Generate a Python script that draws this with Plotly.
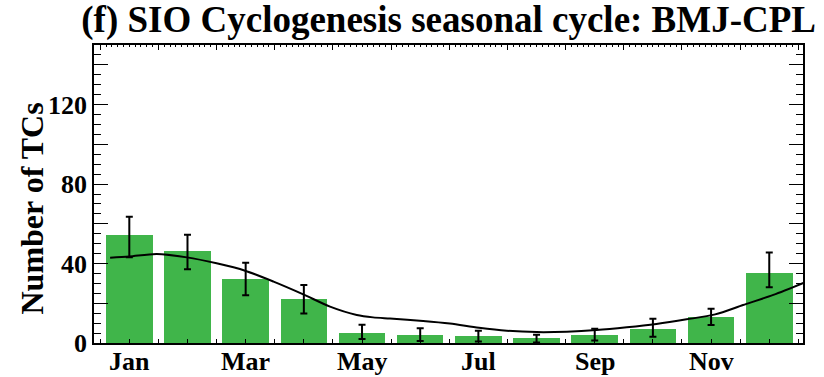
import plotly.graph_objects as go

# Monthly cyclogenesis counts (bars) with upper/lower error limits
months = ["Jan", "Feb", "Mar", "Apr", "May", "Jun",
          "Jul", "Aug", "Sep", "Oct", "Nov", "Dec"]
tc_counts = [54.5, 46.3, 32.2, 22.1, 5.0, 4.0, 3.5, 2.5, 4.0, 7.0, 13.1, 35.4]
err_upper = [63.6, 54.5, 40.4, 29.2, 9.2, 7.4, 6.2, 4.2, 7.2, 12.2, 17.3, 45.5]
err_lower = [43.1, 37.1, 24.0, 14.9, 2.0, 1.0, 0.8, 0.2, 1.2, 3.2, 9.1, 28.0]

# Smoothed seasonal cycle (month index, count)
curve_x = [-0.33, 0.0, 0.47, 0.99, 1.50, 1.99, 2.48, 2.99, 3.45, 3.91, 4.19,
           4.48, 5.05, 5.51, 6.01, 6.49, 7.00, 7.52, 8.03, 8.55, 9.06, 9.58,
           10.07, 10.55, 11.07, 11.60]
curve_y = [42.9, 43.5, 44.8, 43.1, 40.1, 36.4, 30.9, 24.5, 18.3, 14.1, 12.9,
           12.3, 11.1, 9.8, 7.7, 6.2, 5.5, 5.7, 6.5, 7.9, 9.6, 11.9,
           14.4, 19.1, 24.2, 30.4]

# Axis labelling
label_vals = [0, 2, 4, 6, 8, 10]
label_text = [months[i] for i in label_vals]
y_major = [0, 20, 40, 60, 80, 100, 120, 140]
y_text = ["0", "", "40", "", "80", "", "120", ""]
x_range = [-0.607, 11.58]
y_range = [0, 150]

x_idx = list(range(len(months)))
err_plus = [u - v for u, v in zip(err_upper, tc_counts)]
err_minus = [v - l for v, l in zip(tc_counts, err_lower)]

SERIF = "Liberation Serif"
tick_font = dict(family=SERIF, size=26, color="black", weight="bold")

fig = go.Figure()

fig.add_trace(go.Bar(
    x=x_idx, y=tc_counts, width=0.8,
    marker=dict(color="#40b54a", line=dict(width=0)),
    showlegend=False, hoverinfo="skip",
))
fig.add_trace(go.Scatter(
    x=x_idx, y=tc_counts, mode="markers",
    marker=dict(size=0.1, color="rgba(0,0,0,0)"),
    error_y=dict(type="data", symmetric=False, array=err_plus,
                 arrayminus=err_minus, color="black", thickness=2, width=3.5),
    showlegend=False, hoverinfo="skip",
))
fig.add_trace(go.Scatter(
    x=curve_x, y=curve_y, mode="lines",
    line=dict(color="black", width=2, shape="spline", smoothing=0.8),
    showlegend=False, hoverinfo="skip",
))
# Invisible trace so the top and right axes are drawn
fig.add_trace(go.Scatter(
    x=[0], y=[0], xaxis="x2", yaxis="y2", mode="markers",
    marker=dict(color="rgba(0,0,0,0)"), showlegend=False, hoverinfo="skip",
))

# Month names under the bottom axis
month_labels = [dict(
    text=f"<b>{t}</b>", xref="x", yref="paper", x=v, y=0,
    xanchor="center", yanchor="top", yshift=-2, showarrow=False,
    font=dict(family=SERIF, size=26, color="black"),
) for v, t in zip(label_vals, label_text)]

fig.update_layout(
    width=824, height=377,
    margin=dict(l=94, r=21, t=45, b=34, autoexpand=False),
    paper_bgcolor="white", plot_bgcolor="white",
    bargap=0,
    title=dict(text="<b>(f) SIO Cyclogenesis seasonal cycle: BMJ-CPL</b>",
               font=dict(family=SERIF, size=37, color="black"),
               x=0.5445, xanchor="center", y=0.985, yanchor="top"),
    xaxis=dict(
        range=x_range, showgrid=False, zeroline=False, automargin=False,
        showline=True, linecolor="black", linewidth=1.5,
        tickmode="array", tickvals=label_vals, showticklabels=False,
        ticks="inside", ticklen=4, tickcolor="black", tickwidth=1,
        minor=dict(tickmode="linear", tick0=0, dtick=0.5, ticks="inside",
                   ticklen=4, tickcolor="black", tickwidth=1),
    ),
    xaxis2=dict(
        range=x_range, overlaying="x", side="top", showgrid=False,
        zeroline=False, showline=True, linecolor="black", linewidth=1.5,
        tickmode="array", tickvals=[k + 0.5 for k in range(-1, 12)],
        ticks="inside", ticklen=5, tickcolor="black", tickwidth=1,
        showticklabels=False, automargin=False,
        minor=dict(tickmode="linear", tick0=0.5, dtick=0.1, ticks="inside",
                   ticklen=2, tickcolor="black", tickwidth=1),
    ),
    yaxis=dict(
        range=y_range, showgrid=False, zeroline=False, automargin=False,
        showline=True, linecolor="black", linewidth=1.5,
        tickmode="array", tickvals=y_major, ticktext=y_text,
        ticks="inside", ticklen=14, tickcolor="black", tickwidth=1,
        minor=dict(tickmode="linear", tick0=0, dtick=5, ticks="inside",
                   ticklen=7, tickcolor="black", tickwidth=1),
        tickfont=tick_font,
    ),
    yaxis2=dict(
        range=y_range, overlaying="y", side="right", showgrid=False,
        zeroline=False, showline=True, linecolor="black", linewidth=1.5,
        tickmode="array", tickvals=y_major, showticklabels=False,
        ticks="inside", ticklen=14, tickcolor="black", tickwidth=1,
        automargin=False,
        minor=dict(tickmode="linear", tick0=0, dtick=5, ticks="inside",
                   ticklen=7, tickcolor="black", tickwidth=1),
    ),
    annotations=month_labels + [dict(
        text="<b>Number of TCs</b>", textangle=-90,
        xref="paper", yref="paper", x=-0.088, y=0.45,
        xanchor="center", yanchor="middle", showarrow=False,
        font=dict(family=SERIF, size=32, color="black"),
    )],
)

fig.write_html("out.html")
